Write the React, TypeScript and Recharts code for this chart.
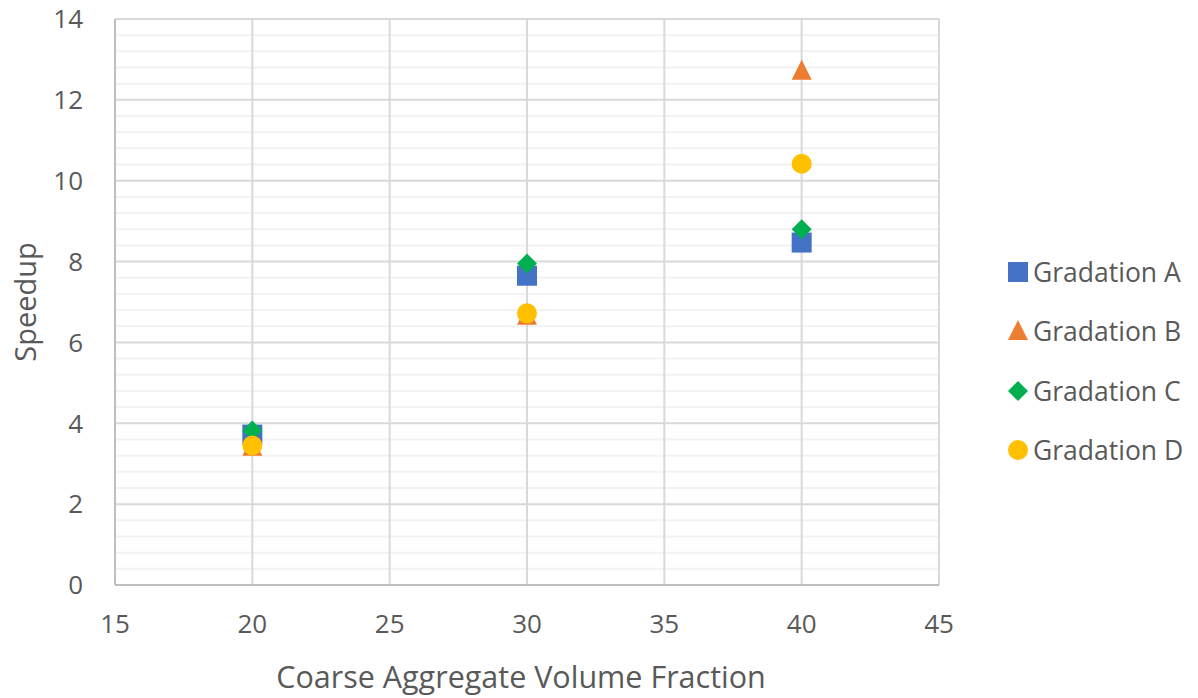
import { ScatterChart, Scatter, XAxis, YAxis, CartesianGrid, Legend } from 'recharts'

const xValues = [20, 30, 40]
const gradationA = [3.72, 7.65, 8.47]
const gradationB = [3.42, 6.66, 12.72]
const gradationC = [3.82, 7.95, 8.8]
const gradationD = [3.45, 6.72, 10.42]

const xTicks = [15, 20, 25, 30, 35, 40, 45]
const yTicks = [0, 2, 4, 6, 8, 10, 12, 14]
const yMinorTicks = [
  0.4, 0.8, 1.2, 1.6, 2.4, 2.8, 3.2, 3.6, 4.4, 4.8, 5.2, 5.6, 6.4, 6.8, 7.2, 7.6,
  8.4, 8.8, 9.2, 9.6, 10.4, 10.8, 11.2, 11.6, 12.4, 12.8, 13.2, 13.6,
]

const FONT = '"Open Sans", sans-serif'
const TEXT = '#595959'

const toPoints = (ys: number[]) => xValues.map((x, i) => ({ x, y: ys[i] }))

type ShapeProps = { cx?: number; cy?: number; fill?: string }

const Square = ({ cx = 0, cy = 0, fill }: ShapeProps) => (
  <rect x={cx - 10} y={cy - 10} width={20} height={20} fill={fill} />
)
const Triangle = ({ cx = 0, cy = 0, fill }: ShapeProps) => (
  <polygon points={`${cx},${cy - 11} ${cx + 10},${cy + 9} ${cx - 10},${cy + 9}`} fill={fill} />
)
const Diamond = ({ cx = 0, cy = 0, fill }: ShapeProps) => (
  <polygon points={`${cx},${cy - 10} ${cx + 10},${cy} ${cx},${cy + 10} ${cx - 10},${cy}`} fill={fill} />
)
const Circle = ({ cx = 0, cy = 0, fill }: ShapeProps) => <circle cx={cx} cy={cy} r={10} fill={fill} />

const series = [
  { name: 'Gradation A', data: gradationA, color: '#4472c4', Shape: Square },
  { name: 'Gradation B', data: gradationB, color: '#ed7d31', Shape: Triangle },
  { name: 'Gradation C', data: gradationC, color: '#00b050', Shape: Diamond },
  { name: 'Gradation D', data: gradationD, color: '#ffc000', Shape: Circle },
]

function LegendBox() {
  return (
    <div style={{ fontFamily: FONT, fontSize: 26.5, color: TEXT }}>
      {series.map(s => (
        <div key={s.name} style={{ display: 'flex', alignItems: 'center', height: 59.5 }}>
          <svg width={24} height={24} style={{ marginRight: 3 }}>
            <s.Shape cx={12} cy={12} fill={s.color} />
          </svg>
          <span>{s.name}</span>
        </div>
      ))}
    </div>
  )
}

type VB = { x: number; y: number; width: number; height: number }

const YTitle = ({ viewBox }: { viewBox?: VB }) => {
  if (!viewBox) return null
  const x = viewBox.x - 31
  const y = viewBox.y + viewBox.height / 2
  return (
    <text
      x={x}
      y={y}
      transform={`rotate(-90, ${x}, ${y})`}
      textAnchor="middle"
      dominantBaseline="central"
      fill={TEXT}
      fontSize={29}
      fontFamily={FONT}
    >
      Speedup
    </text>
  )
}

const XTitle = ({ viewBox }: { viewBox?: VB }) => {
  if (!viewBox) return null
  return (
    <text
      x={viewBox.x + viewBox.width / 2 - 6}
      y={viewBox.y + 103}
      textAnchor="middle"
      fill={TEXT}
      fontSize={30.5}
      fontFamily={FONT}
    >
      Coarse Aggregate Volume Fraction
    </text>
  )
}

export default function App() {
  return (
    <div style={{ position: 'absolute', left: 0, top: 0, background: '#fff' }}>
      <ScatterChart width={1198} height={698} margin={{ top: 19, right: 69, left: 55, bottom: 13 }}>
        <CartesianGrid
          stroke="#f2f2f2"
          strokeWidth={2}
          vertical={false}
          horizontalValues={yMinorTicks}
        />
        <CartesianGrid stroke="#d9d9d9" strokeWidth={2} />
        <XAxis
          type="number"
          dataKey="x"
          domain={[15, 45]}
          ticks={xTicks}
          interval={0}
          height={100}
          stroke="#bfbfbf"
          strokeWidth={2}
          tickLine={false}
          tickSize={0}
          tickMargin={30}
          tick={{ fill: TEXT, fontSize: 26, fontFamily: FONT }}
          label={<XTitle />}
        />
        <YAxis
          type="number"
          dataKey="y"
          domain={[0, 14]}
          ticks={yTicks}
          interval={0}
          width={60}
          stroke="#bfbfbf"
          strokeWidth={2}
          tickLine={false}
          tickSize={0}
          tickMargin={32}
          tick={{ fill: TEXT, fontSize: 26, fontFamily: FONT }}
          label={<YTitle />}
        />
        <Legend
          layout="vertical"
          align="right"
          verticalAlign="top"
          wrapperStyle={{ left: 1006, top: 242, width: 190 }}
          content={() => <LegendBox />}
        />
        {series.map(s => (
          <Scatter
            key={s.name}
            name={s.name}
            data={toPoints(s.data)}
            fill={s.color}
            shape={(p: ShapeProps) => <s.Shape cx={p.cx} cy={p.cy} fill={s.color} />}
            isAnimationActive={false}
          />
        ))}
      </ScatterChart>
    </div>
  )
}
